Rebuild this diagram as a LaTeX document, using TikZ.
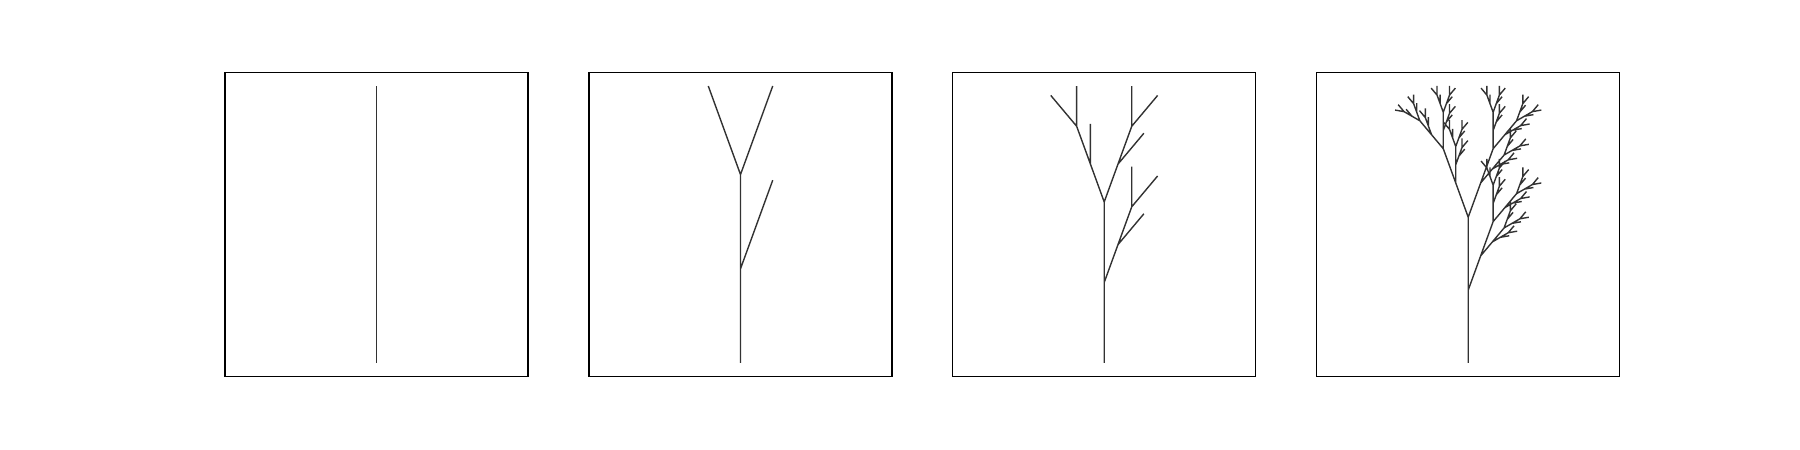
\documentclass[tikz,border=0pt]{standalone}
\usetikzlibrary{lindenmayersystems}
\definecolor{treegray}{RGB}{50,50,50}
\pgfdeclarelindenmayersystem{plant}{
  \rule{X -> F[-X]F[+X]-X}
  \rule{F -> FF}
}
\tikzset{
  panelbox/.style={draw=black, line width=0.75pt},
  treeline/.style={draw=treegray, line width=0.7pt, line join=round},
}
\begin{document}
\begin{tikzpicture}[x=0.5pt, y=0.5pt]
\useasboundingbox (0,0) rectangle (1800,450);
% panel frames
\draw[panelbox] (225,73.5) rectangle (528,377.5);
\draw[panelbox] (589,73.5) rectangle (892,377.5);
\draw[panelbox] (952.7,73.5) rectangle (1255.7,377.5);
\draw[panelbox] (1316.7,73.5) rectangle (1619.7,377.5);
% trees
\draw[treeline, shift={(376.5,87)}, rotate=90,
  l-system={plant, axiom=X, order=1, step=69.25pt, angle=20}] (0,0) lindenmayer system;
\draw[treeline, shift={(740.5,87)}, rotate=90,
  l-system={plant, axiom=X, order=2, step=23.557pt, angle=20}] (0,0) lindenmayer system;
\draw[treeline, shift={(1104.2,87)}, rotate=90,
  l-system={plant, axiom=X, order=3, step=10.066pt, angle=20}] (0,0) lindenmayer system;
\draw[treeline, shift={(1468.2,87)}, rotate=90,
  l-system={plant, axiom=X, order=5, step=2.2782pt, angle=20}] (0,0) lindenmayer system;
\end{tikzpicture}
\end{document}
